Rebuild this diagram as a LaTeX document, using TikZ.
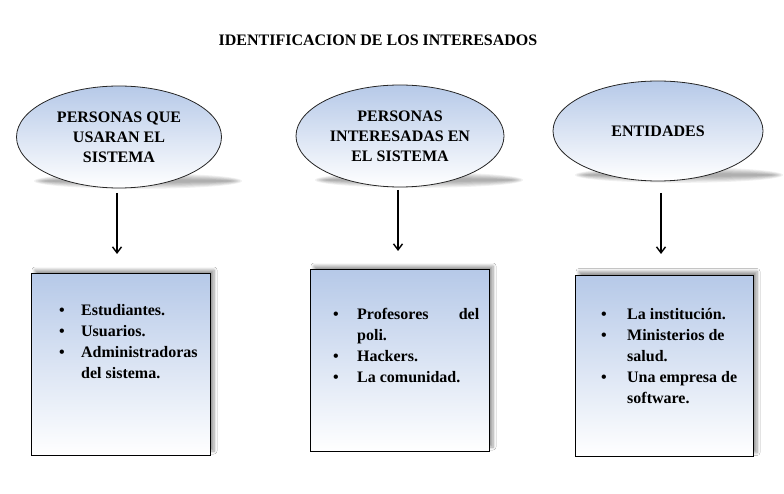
\documentclass[tikz,border=0pt]{standalone}
\usepackage{fontspec}
\setmainfont{Liberation Serif}
\usetikzlibrary{arrows.meta,shapes.geometric,shadows.blur}
\definecolor{topblue}{RGB}{182,201,232}
\tikzset{
  every node/.style={font=\bfseries\fontsize{16}{20}\selectfont},
  oval/.style={ellipse, draw=black!85, line width=0.8pt, inner sep=0pt, top color=topblue, bottom color=white, align=center},
  listbox/.style={rectangle, draw=black, line width=1pt, inner sep=0pt, top color=topblue, bottom color=white,
    blur shadow={shadow xshift=4pt, shadow yshift=4pt, shadow blur radius=3pt, shadow blur steps=6, shadow opacity=40}},
  conn/.style={-{Straight Barb[length=6pt,width=9pt]}, line width=1.4pt},
  listtxt/.style={anchor=north west, inner sep=0pt, align=left, font=\bfseries\fontsize{16}{21}\selectfont},
}
\newcommand{\ovalshadow}[3]{%
  \foreach \k in {1,...,6}{
    \fill[black, opacity=0.06] (#1,#2) ellipse ({#3+4-\k*2} and {9-\k*1.2});
  }}
\begin{document}
\begin{tikzpicture}[x=1pt,y=-1pt]
\useasboundingbox (0,0) rectangle (784,494);
\fill[white] (0,0) rectangle (784,494);

\node (title) at (378,40) {IDENTIFICACION DE LOS INTERESADOS};

% shadows of ellipses
\ovalshadow{138}{181}{102}
\ovalshadow{419}{180}{102}
\ovalshadow{679}{175}{102}

\node[oval, minimum width=205, minimum height=102] (e1) at (119,137) {PERSONAS QUE\\USARAN EL\\SISTEMA};
\node[oval, minimum width=208, minimum height=102] (e2) at (400,136) {PERSONAS\\INTERESADAS EN\\EL SISTEMA};
\node[oval, minimum width=210, minimum height=100] (e3) at (658,131) {ENTIDADES};

\node[listbox, minimum width=179, minimum height=181] (b1) at (120.5,364.5) {};
\node[listbox, minimum width=179, minimum height=181] (b2) at (399.5,360.5) {};
\node[listbox, minimum width=178, minimum height=181] (b3) at (664,366) {};

\coordinate (a1s) at (117,193); \coordinate (a1e) at (117,254);
\coordinate (a2s) at (398,190); \coordinate (a2e) at (398,251);
\coordinate (a3s) at (661,193); \coordinate (a3e) at (661,254);
\draw[conn] (a1s) -- (a1e);
\draw[conn] (a2s) -- (a2e);
\draw[conn] (a3s) -- (a3e);

\node[listtxt] (t1) at (59,301) {%
  \begin{tabular}{@{}p{22pt}@{}p{118pt}@{}}
  \textbullet & Estudiantes.\\
  \textbullet & Usuarios.\\
  \textbullet & Administradoras\\
   & del sistema.
  \end{tabular}};
\node[listtxt] (t2) at (333,305) {%
  \begin{tabular}{@{}p{24pt}@{}p{122pt}@{}}
  \textbullet & Profesores\hfill del\\
   & poli.\\
  \textbullet & Hackers.\\
  \textbullet & La comunidad.
  \end{tabular}};
\node[listtxt] (t3) at (601,305) {%
  \begin{tabular}{@{}p{26pt}@{}p{120pt}@{}}
  \textbullet & La institución.\\
  \textbullet & Ministerios de\\
   & salud.\\
  \textbullet & Una empresa de\\
   & software.
  \end{tabular}};
\end{tikzpicture}
\end{document}
